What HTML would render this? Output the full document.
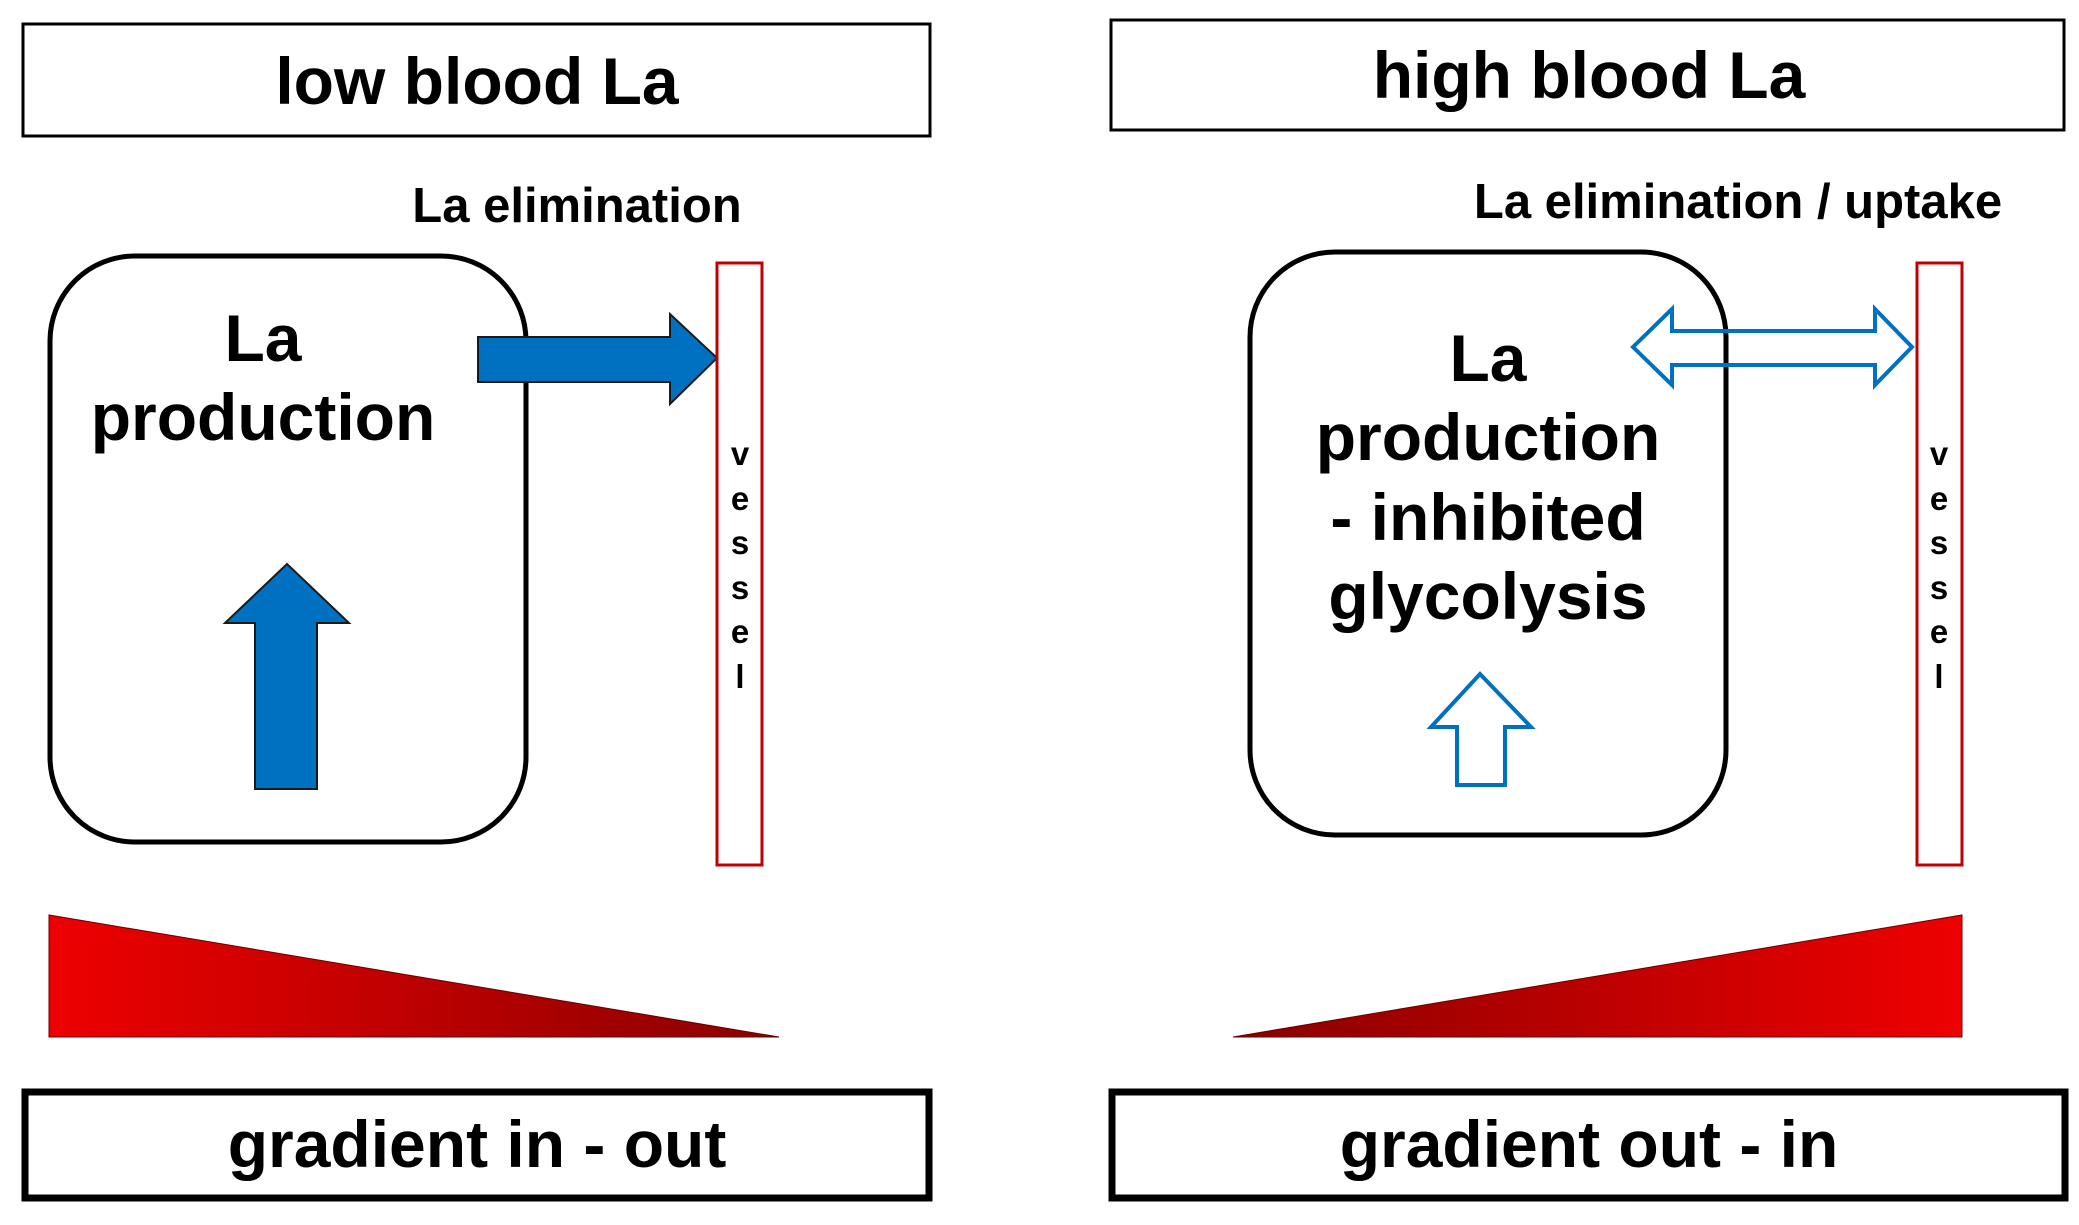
<!DOCTYPE html>
<html><head><meta charset="utf-8"><style>html,body{margin:0;padding:0;background:#fff}svg{display:block}</style></head>
<body>
<svg width="2079" height="1225" viewBox="0 0 2079 1225" xmlns="http://www.w3.org/2000/svg" font-family="Liberation Sans, Arial, sans-serif" font-weight="bold">
<defs>
<linearGradient id="gl" x1="0" y1="0" x2="1" y2="0"><stop offset="0" stop-color="#ee0000"/><stop offset="1" stop-color="#8a0000"/></linearGradient>
<linearGradient id="gr" x1="0" y1="0" x2="1" y2="0"><stop offset="0" stop-color="#8a0000"/><stop offset="1" stop-color="#ee0000"/></linearGradient>
</defs>
<!-- left -->
<rect x="23" y="24" width="907" height="112" fill="#fff" stroke="#000" stroke-width="3"/>
<text x="477" y="104" font-size="66" text-anchor="middle">low blood La</text>
<text x="577" y="222" font-size="49" text-anchor="middle">La elimination</text>
<rect x="50" y="256" width="476" height="586" rx="85" fill="#fff" stroke="#000" stroke-width="5"/>
<text x="263" y="361" font-size="66" text-anchor="middle">La</text>
<text x="263" y="440" font-size="66" text-anchor="middle">production</text>
<polygon points="478,337 670,337 670,314 717,358 670,404 670,382 478,382" fill="#0070c0" stroke="#1a1a1a" stroke-width="2"/>
<polygon points="255,789 255,623 225,623 287,564 349,623 317,623 317,789" fill="#0070c0" stroke="#1a1a1a" stroke-width="2"/>
<rect x="717" y="263" width="45" height="602" fill="#fff" stroke="#c00000" stroke-width="3"/>
<g font-size="33" text-anchor="middle">
<text x="740" y="465">v</text><text x="740" y="510">e</text><text x="740" y="554">s</text><text x="740" y="599">s</text><text x="740" y="643">e</text><text x="740" y="688">l</text>
</g>
<polygon points="49,915 49,1037 779,1037" fill="url(#gl)" stroke="#600" stroke-width="1"/>
<rect x="25" y="1092" width="904" height="106" fill="#fff" stroke="#000" stroke-width="7"/>
<text x="477" y="1167" font-size="66" text-anchor="middle">gradient in - out</text>
<!-- right -->
<rect x="1111" y="20" width="953" height="110" fill="#fff" stroke="#000" stroke-width="3"/>
<text x="1589" y="98" font-size="66" text-anchor="middle">high blood La</text>
<text x="1738" y="218" font-size="49" text-anchor="middle">La elimination / uptake</text>
<rect x="1250" y="252" width="476" height="583" rx="85" fill="#fff" stroke="#000" stroke-width="5"/>
<g font-size="66" text-anchor="middle">
<text x="1488" y="381">La</text>
<text x="1488" y="460">production</text>
<text x="1488" y="540">- inhibited</text>
<text x="1488" y="619">glycolysis</text>
</g>
<polygon points="1633,347 1672,309 1672,331 1875,331 1875,309 1912,347 1875,385 1875,365 1672,365 1672,385" fill="none" stroke="#0070c0" stroke-width="4"/>
<polygon points="1457,785 1457,727 1431,727 1480,674 1531,727 1505,727 1505,785" fill="#fff" stroke="#0070c0" stroke-width="4"/>
<rect x="1917" y="263" width="45" height="602" fill="#fff" stroke="#c00000" stroke-width="3"/>
<g font-size="33" text-anchor="middle">
<text x="1939" y="465">v</text><text x="1939" y="510">e</text><text x="1939" y="554">s</text><text x="1939" y="599">s</text><text x="1939" y="643">e</text><text x="1939" y="688">l</text>
</g>
<polygon points="1233,1037 1962,1037 1962,915" fill="url(#gr)" stroke="#600" stroke-width="1"/>
<rect x="1112" y="1092" width="953" height="106" fill="#fff" stroke="#000" stroke-width="7"/>
<text x="1589" y="1167" font-size="66" text-anchor="middle">gradient out - in</text>
</svg>
</body></html>
